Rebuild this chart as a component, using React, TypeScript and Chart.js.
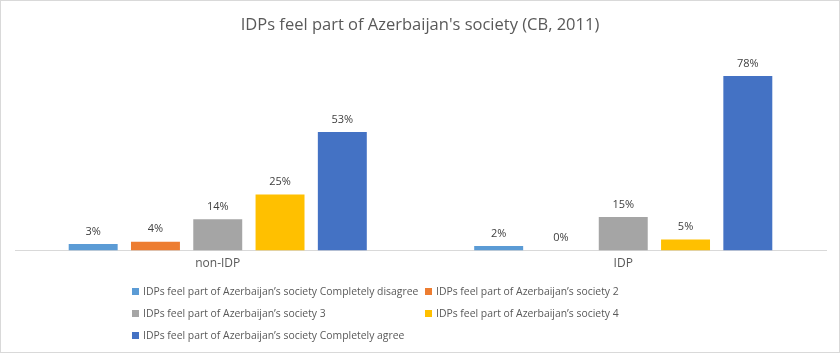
import React, { useEffect, useRef } from "react";
import { Chart, registerables } from "chart.js";

Chart.register(...registerables);

const TITLE = "IDPs feel part of Azerbaijan's society (CB, 2011)";
const categories = ["non-IDP", "IDP"];
const seriesNames = [
  "IDPs feel part of Azerbaijan’s society Completely disagree",
  "IDPs feel part of Azerbaijan’s society 2",
  "IDPs feel part of Azerbaijan’s society 3",
  "IDPs feel part of Azerbaijan’s society 4",
  "IDPs feel part of Azerbaijan’s society Completely agree",
];
const completelyDisagree = [3, 2];
const level2 = [4, 0];
const level3 = [14, 15];
const level4 = [25, 5];
const completelyAgree = [53, 78];
const seriesValues = [completelyDisagree, level2, level3, level4, completelyAgree];
const seriesColors = ["#5B9BD5", "#ED7D31", "#A5A5A5", "#FFC000", "#4472C4"];

const FONT = '"Open Sans", "Liberation Sans", sans-serif';
const TEXT_COLOR = "#595959";

const dataLabels = {
  id: "dataLabels",
  afterDatasetsDraw(chart: any) {
    const ctx = chart.ctx;
    ctx.save();
    ctx.font = `11px ${FONT}`;
    ctx.fillStyle = "#404040";
    ctx.textAlign = "center";
    ctx.textBaseline = "middle";
    chart.data.datasets.forEach((ds: any, i: number) => {
      const meta = chart.getDatasetMeta(i);
      meta.data.forEach((el: any, j: number) => {
        ctx.fillText(`${ds.data[j]}%`, el.x, el.y - 12.5);
      });
    });
    ctx.restore();
  },
};

export default function App() {
  const canvasRef = useRef<HTMLCanvasElement | null>(null);

  useEffect(() => {
    if (!canvasRef.current) return;
    const chart = new Chart(canvasRef.current, {
      type: "bar",
      data: {
        labels: categories,
        datasets: seriesNames.map((name, i) => ({
          label: name,
          data: seriesValues[i],
          backgroundColor: seriesColors[i],
          borderWidth: 0,
          categoryPercentage: 0.768,
          barPercentage: 0.786,
        })),
      },
      options: {
        responsive: false,
        animation: false,
        devicePixelRatio: 1,
        layout: { padding: { left: 15, right: 14, top: 49, bottom: 76 } },
        plugins: {
          legend: { display: false },
          title: { display: false },
          tooltip: { enabled: false },
        },
        scales: {
          x: {
            grid: { display: false, drawTicks: false },
            border: { display: true, color: "#D9D9D9", width: 1 },
            ticks: { color: TEXT_COLOR, font: { family: FONT, size: 12 }, padding: 6 },
          },
          y: { display: false, min: 0, max: 90 },
        },
      },
      plugins: [dataLabels],
    });
    return () => chart.destroy();
  }, []);

  const legendOrder = [0, 1, 2, 3, 4];

  return (
    <div style={{ position: "absolute", left: 0, top: 0, width: 840, height: 353, background: "#fff", fontFamily: FONT }}>
      <canvas ref={canvasRef} width={840} height={353} style={{ position: "absolute", left: 0, top: 0, display: "block" }} />
      <div
        style={{
          position: "absolute",
          left: 0,
          top: 12,
          width: 840,
          textAlign: "center",
          fontSize: 16.5,
          lineHeight: "24px",
          color: TEXT_COLOR,
        }}
      >
        {TITLE}
      </div>
      <div
        style={{
          position: "absolute",
          left: 132,
          top: 280,
          display: "grid",
          gridTemplateColumns: "293px auto",
          gridAutoRows: "22px",
          fontSize: 10.4,
          color: TEXT_COLOR,
        }}
      >
        {legendOrder.map((i) => (
          <div key={i} style={{ display: "flex", alignItems: "center", whiteSpace: "nowrap", overflow: "visible", minWidth: 0 }}>
            <span style={{ display: "inline-block", flex: "0 0 7px", width: 7, height: 7, background: seriesColors[i], marginRight: 4 }} />
            <span style={{ flex: "0 0 auto" }}>{seriesNames[i]}</span>
          </div>
        ))}
      </div>
      <div
        style={{
          position: "absolute",
          left: 0,
          top: 0,
          width: 840,
          height: 353,
          boxSizing: "border-box",
          border: "1px solid #D9D9D9",
          pointerEvents: "none",
        }}
      />
    </div>
  );
}
